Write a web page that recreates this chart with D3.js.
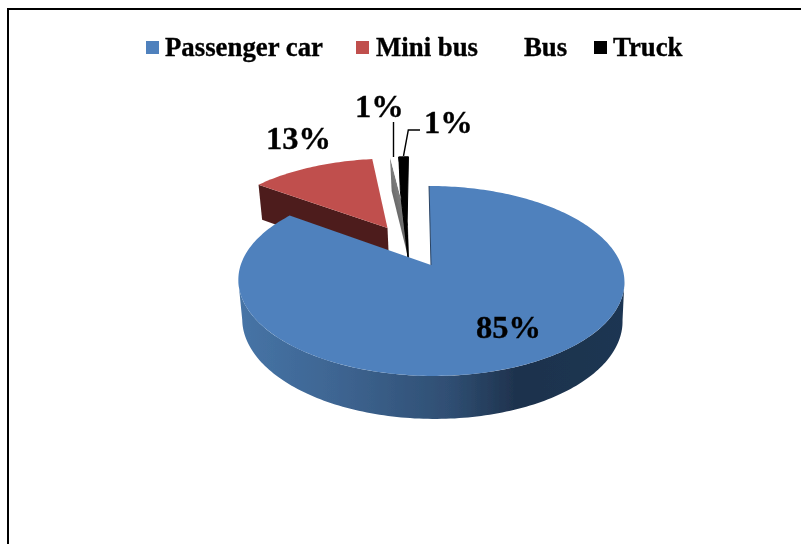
<!DOCTYPE html>
<html><head><meta charset="utf-8">
<script src="https://cdn.jsdelivr.net/npm/d3@7"></script>
<style>html,body{margin:0;padding:0;background:#fff}svg{display:block}
text{font-family:"Liberation Serif",serif;font-weight:bold;fill:#000;stroke:#000;stroke-width:.35px}</style>
</head><body><div id="c"></div>
<script>
const categories = ["Passenger car","Mini bus","Bus","Truck"];
const values = [85,13,1,1];
const labels = ["85%","13%","1%","1%"];
const topColors = ["#4f81bd","#c0504d","#ffffff","#000000"];

const W=801,H=544;
const svg=d3.select("#c").append("svg").attr("width",W).attr("height",H);
const defs=svg.append("defs");
defs.append("filter").attr("id","soft").attr("x","-5%").attr("y","-5%").attr("width","110%").attr("height","110%")
  .append("feGaussianBlur").attr("stdDeviation",0.5);
const g1=defs.append("linearGradient").attr("id","rim").attr("gradientUnits","userSpaceOnUse")
  .attr("x1",239).attr("x2",625).attr("y1",0).attr("y2",0);
[[0,"#4674a6"],[.25,"#3e6592"],[.55,"#2f4e72"],[.72,"#1e324d"],[1,"#1f3652"]]
  .forEach(([o,c])=>g1.append("stop").attr("offset",o).attr("stop-color",c));
const g2=defs.append("linearGradient").attr("id","busWall").attr("gradientUnits","userSpaceOnUse")
  .attr("x1",391).attr("x2",405).attr("y1",190).attr("y2",186);
[[0,"#6a6a6a"],[.55,"#7f7f7f"],[1,"#d8d8d8"]]
  .forEach(([o,c])=>g2.append("stop").attr("offset",o).attr("stop-color",c));

// frame
svg.append("path").attr("d",`M8,${H}V9H${W}`).attr("fill","none").attr("stroke","#000").attr("stroke-width",2);

// perspective projection of the pie plane
const cx=431,cy=265,ax=190.3,by=92.3,k=0.168,depth=38.5,shear=0.012;
const P=(x,z,low)=>{
  const s=1/(1+k*z), xs=(x-shear*z)*ax*s;
  return low ? [cx+1+xs*0.985,cy-by*z*s+depth*Math.pow(s,0.6)] : [cx+xs,cy-by*z*s];
};
const color=d3.scaleOrdinal(categories,topColors);
const arcs=d3.pie().sort(null).value((d,i)=>values[i])(categories);
const explode={ "Passenger car":[0,0], "Mini bus":[-0.24,0.43], "Bus":[-0.125,0.46], "Truck":[-0.13,0.46] };
const line=d3.line();
const rimPt=(a,off,low)=>P(off[0]+Math.sin(a),off[1]+Math.cos(a),low);
const arcPts=(a0,a1,off,low)=>{
  const n=Math.max(2,Math.ceil(Math.abs(a1-a0)/0.02));
  return d3.range(n+1).map(i=>rimPt(a0+(a1-a0)*i/n,off,low));
};
const pie=svg.append("g").attr("filter","url(#soft)");
const faceD=(d,off)=>line([P(off[0],off[1],false),...arcPts(d.startAngle,d.endAngle,off,false)])+"Z";
const radialWall=(a,off)=>line([P(off[0],off[1],false),rimPt(a,off,false),rimPt(a,off,true),P(off[0],off[1],true)])+"Z";

// Mini bus
const red=arcs[1], oRed=explode[red.data];
pie.append("path").attr("d",radialWall(red.startAngle,oRed)).attr("fill","#4e1f1d");
pie.append("path").attr("d",faceD(red,oRed)).attr("fill",color(red.data));
// Bus
const bus=arcs[2], oBus=explode[bus.data];
pie.append("path").attr("d",radialWall(bus.startAngle,oBus)).attr("fill","url(#busWall)");
pie.append("path").attr("d",faceD(bus,oBus)).attr("fill",color(bus.data));
// Truck
const trk=arcs[3], oTrk=explode[trk.data];
pie.append("path").attr("d",radialWall(trk.startAngle,oTrk)).attr("fill","#000").attr("stroke","#000").attr("stroke-width",1);
pie.append("path").attr("d",faceD(trk,oTrk)).attr("fill",color(trk.data)).attr("stroke","#000").attr("stroke-width",1);
// Passenger car: the rim runs between the two side extremes of the disc
const blue=arcs[0], oBlue=explode[blue.data];
const side=Math.acos(-k);
pie.append("path").attr("d",line([...arcPts(side,2*Math.PI-side,oBlue,false),...arcPts(2*Math.PI-side,side,oBlue,true)])+"Z").attr("fill","url(#rim)");
pie.append("path").attr("d",faceD(blue,oBlue)).attr("fill",color(blue.data));
pie.append("path").attr("d",line([P(0,0,false),rimPt(blue.startAngle,oBlue,false)])).attr("stroke","#2a4464").attr("stroke-width",1).attr("fill","none");

// leader lines
const leaders=[[[393.5,122],[393.5,157]],[[420,130],[408.3,130],[403.5,156]]];
svg.selectAll("path.leader").data(leaders).join("path").attr("class","leader")
  .attr("d",d=>line(d)).attr("fill","none").attr("stroke","#000").attr("stroke-width",1.4);

// data labels
const labelPos=[[476,338],[266,149],[355,117],[424,133]];
svg.selectAll("text.lab").data(labels).join("text").attr("class","lab")
  .attr("x",(d,i)=>labelPos[i][0]).attr("y",(d,i)=>labelPos[i][1])
  .attr("font-size",32.5).attr("filter","url(#soft)").text(d=>d);

// legend
const swatchX=[146,356,null,594], legendX=[165,376,524,613];
const leg=svg.append("g").attr("filter","url(#soft)");
categories.forEach((c,i)=>{
  if(swatchX[i]!==null) leg.append("rect").attr("x",swatchX[i]).attr("y",41).attr("width",13).attr("height",13).attr("fill",color(c)).style("stroke","none");
  leg.append("text").attr("x",legendX[i]).attr("y",56).attr("font-size",26.8).text(c);
});
</script></body></html>
